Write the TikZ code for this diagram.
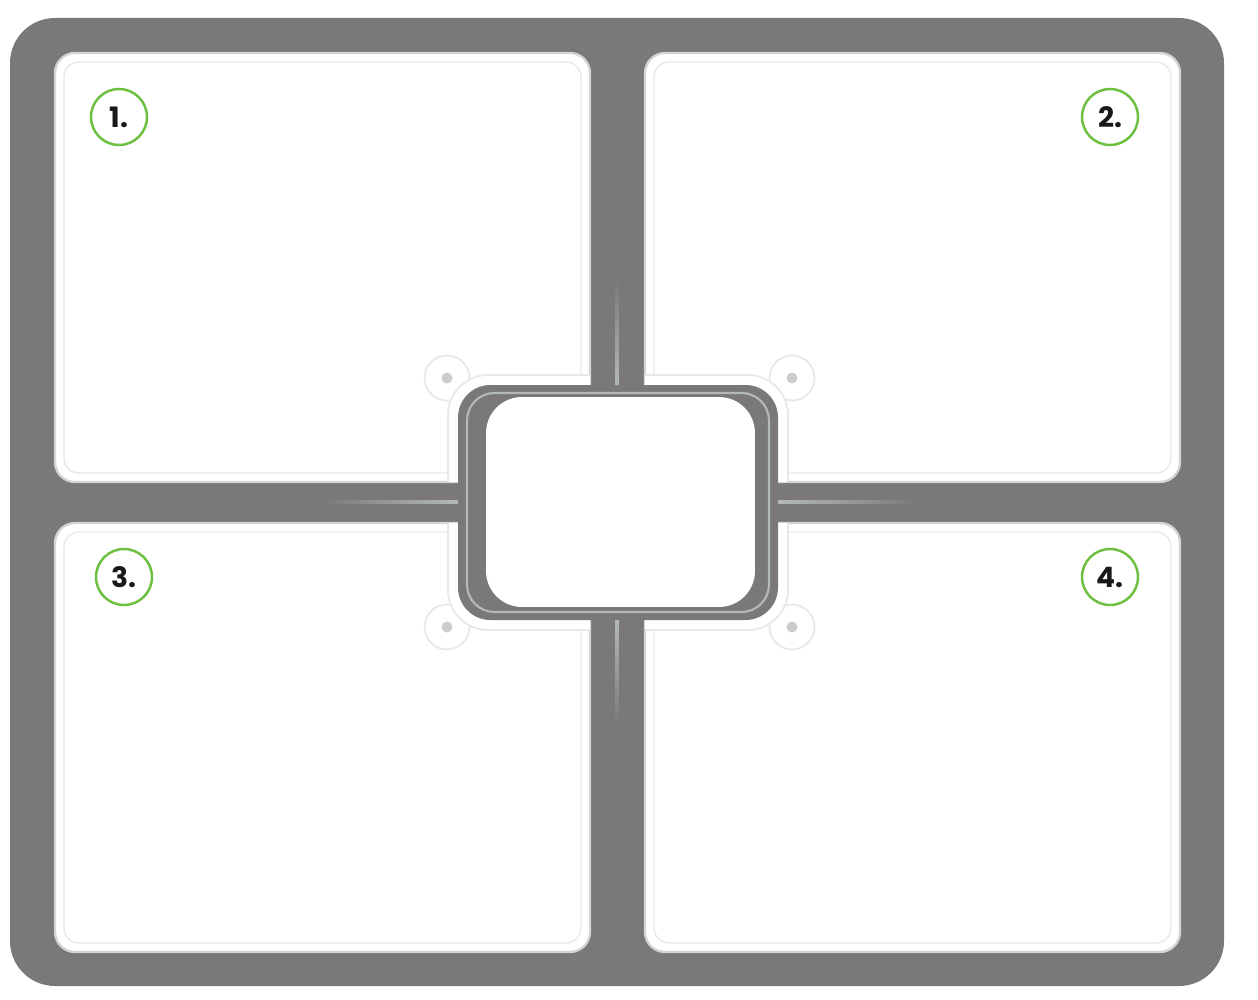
\documentclass[tikz,border=0pt]{standalone}
\usepackage{fontspec}
\setmainfont{Poppins}
\definecolor{frame}{HTML}{7A7878}
\definecolor{panelline}{HTML}{D4D4D4}
\definecolor{panelinner}{HTML}{E8E8E8}
\definecolor{numgreen}{HTML}{6CBF3F}
\definecolor{glow}{HTML}{B4B9BC}
\begin{document}
\begin{tikzpicture}[x=0.02cm,y=-0.02cm,
  panel/.style={fill=white,draw=panelline,line width=1.3pt,rounded corners=0.4cm},
  panelin/.style={draw=panelinner,line width=0.8pt,rounded corners=0.3cm},
  numcircle/.style={circle,draw=numgreen,line width=1.4pt,fill=white,minimum size=1.12cm,inner sep=0pt,
    font=\fontsize{16}{18}\selectfont\bfseries,text=black!90},
  ring/.style={circle,draw=panelinner,line width=1pt,fill=white,minimum size=0.9cm,inner sep=0pt},
  dot/.style={circle,fill=black!20,minimum size=0.22cm,inner sep=0pt}]
\useasboundingbox (0,0) rectangle (1258,1000);
% outer frame
\fill[frame,rounded corners=0.9cm] (10,18) rectangle (1224,986);
% panels
\draw[panel] (55,53) rectangle (590,482);
\draw[panelin] (64,62) rectangle (581,473);
\draw[panel] (645,53) rectangle (1180,482);
\draw[panelin] (654,62) rectangle (1171,473);
\draw[panel] (55,523) rectangle (590,952);
\draw[panelin] (64,532) rectangle (581,943);
\draw[panel] (645,523) rectangle (1180,952);
\draw[panelin] (654,532) rectangle (1171,943);
% small rings near the centre
\node[ring] (r1) at (447,378) {};
\node[ring] (r2) at (792,378) {};
\node[ring] (r3) at (447,627) {};
\node[ring] (r4) at (792,627) {};
\node[dot] at (r1) {};
\node[dot] at (r2) {};
\node[dot] at (r3) {};
\node[dot] at (r4) {};
% halo round the centre frame, only over the panels
\begin{scope}
\clip (55,53) rectangle (590,482) (645,53) rectangle (1180,482)
      (55,523) rectangle (590,952) (645,523) rectangle (1180,952);
\draw[fill=white,draw=panelinner,line width=1pt,rounded corners=0.8cm] (448,375) rectangle (788,630);
\end{scope}
% channel highlights
\shade[top color=frame,bottom color=glow] (615.5,280) rectangle (618.5,386);
\shade[top color=glow,bottom color=frame] (615.5,619) rectangle (618.5,725);
\shade[left color=frame,right color=glow] (320,500.5) rectangle (459,503.5);
\shade[left color=glow,right color=frame] (777,500.5) rectangle (920,503.5);
% centre frame
\fill[frame,rounded corners=0.65cm] (458,385) rectangle (778,620);
\draw[glow,line width=1.2pt,rounded corners=0.55cm] (467,393) rectangle (769,612);
\node[fill=white,rounded corners=0.72cm,minimum width=5.38cm,minimum height=4.2cm,inner sep=0pt] (centre) at (620.5,502) {};
% numbers
\node[numcircle] (n1) at (119,117) {1.};
\node[numcircle] (n2) at (1110,117) {2.};
\node[numcircle] (n3) at (124,577) {3.};
\node[numcircle] (n4) at (1110,577) {4.};
\end{tikzpicture}
\end{document}
